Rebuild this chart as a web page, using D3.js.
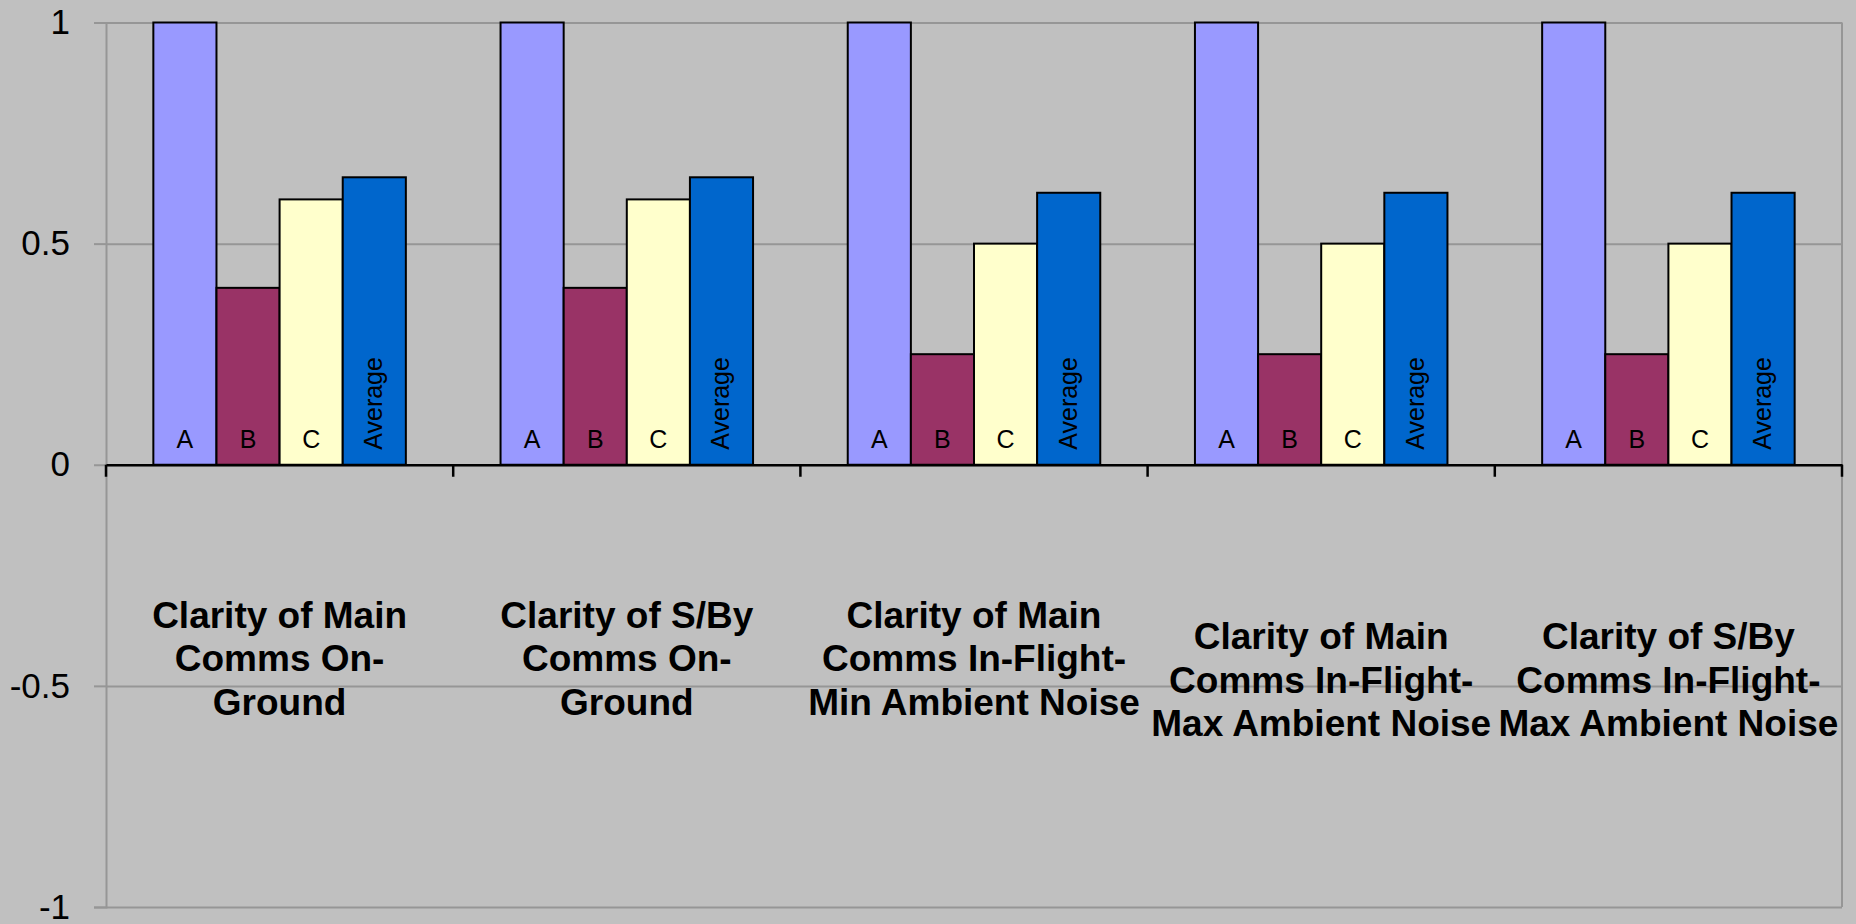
<!DOCTYPE html>
<html>
<head>
<meta charset="utf-8">
<script src="https://cdn.jsdelivr.net/npm/d3@7"></script>
<style>
  html, body { margin: 0; padding: 0; background: #c0c0c0; }
  svg { display: block; font-family: "Liberation Sans", Arial, sans-serif; }
</style>
</head>
<body>
<svg id="chart" width="1856" height="924"></svg>
<script>
// Category labels, one array of lines per category
const categories = [
  "Main On-Ground",
  "S/By On-Ground",
  "Main In-Flight Min",
  "Main In-Flight Max",
  "S/By In-Flight Max"
];
const categoryLines = [
  ["Clarity of Main", "Comms On-", "Ground"],
  ["Clarity of S/By", "Comms On-", "Ground"],
  ["Clarity of Main", "Comms In-Flight-", "Min Ambient Noise"],
  ["Clarity of Main", "Comms In-Flight-", "Max Ambient Noise"],
  ["Clarity of S/By", "Comms In-Flight-", "Max Ambient Noise"]
];

// Series and their values per category
const series = ["A", "B", "C", "Average"];
const valuesA = [1, 1, 1, 1, 1];
const valuesB = [0.4, 0.4, 0.25, 0.25, 0.25];
const valuesC = [0.6, 0.6, 0.5, 0.5, 0.5];
const valuesAverage = [0.65, 0.65, 0.615, 0.615, 0.615];

const yTicks = [-1, -0.5, 0, 0.5, 1];

const seriesColors = { "A": "#9999ff", "B": "#993366", "C": "#ffffcc", "Average": "#0066cc" };

const table = categories.map((c, i) => ({
  category: c,
  lines: categoryLines[i],
  values: [
    { key: "A", value: valuesA[i] },
    { key: "B", value: valuesB[i] },
    { key: "C", value: valuesC[i] },
    { key: "Average", value: valuesAverage[i] }
  ]
}));

// Plot geometry
const plot = { left: 106, right: 1842, top: 22.5, bottom: 907 };

const svg = d3.select("#chart");

const x0 = d3.scaleBand().domain(categories).range([plot.left, plot.right]).padding(0);
const bw = x0.bandwidth();
const gap = bw * 1.5 / 5.5; // gap width of 150% between groups
const x1 = d3.scaleBand().domain(series).range([gap / 2, bw - gap / 2]).padding(0);

const y = d3.scaleLinear().domain([-1, 1]).range([plot.bottom, plot.top]);

// Gridlines
svg.append("g")
  .attr("transform", `translate(${plot.left},0)`)
  .call(d3.axisLeft(y).tickValues(yTicks).tickSize(-(plot.right - plot.left)).tickFormat(""))
  .call(g => g.select(".domain").remove())
  .call(g => g.selectAll("line").attr("stroke", "#969696").attr("stroke-width", 2));

// Right border of the plot area
svg.append("line")
  .attr("x1", plot.right).attr("x2", plot.right)
  .attr("y1", y(1)).attr("y2", y(-1))
  .attr("stroke", "#969696").attr("stroke-width", 2);

// Y axis with labels
svg.append("g")
  .attr("transform", `translate(${plot.left},0)`)
  .call(d3.axisLeft(y).tickValues(yTicks).tickSize(12).tickPadding(24).tickFormat(d => String(d)))
  .call(g => g.select(".domain").attr("stroke", "#969696").attr("stroke-width", 2))
  .call(g => g.selectAll("line").attr("stroke", "#969696").attr("stroke-width", 2))
  .call(g => g.selectAll("text")
    .attr("font-size", 35)
    .attr("fill", "#000")
    .attr("font-family", "'Liberation Sans', Arial, sans-serif"));

// Bars
const groups = svg.append("g").selectAll("g")
  .data(table)
  .join("g")
  .attr("transform", d => `translate(${x0(d.category)},0)`);

groups.selectAll("rect")
  .data(d => d.values)
  .join("rect")
  .attr("x", d => x1(d.key))
  .attr("width", x1.bandwidth())
  .attr("y", d => y(Math.max(0, d.value)))
  .attr("height", d => Math.abs(y(d.value) - y(0)))
  .attr("fill", d => seriesColors[d.key])
  .attr("stroke", "#000")
  .attr("stroke-width", 2);

// Series names inside bar bases
groups.selectAll("text.series")
  .data(d => d.values)
  .join("text")
  .attr("class", "series")
  .attr("font-size", 25)
  .attr("fill", "#000")
  .each(function (d) {
    const t = d3.select(this);
    const cx = x1(d.key) + x1.bandwidth() / 2;
    if (d.key === "Average") {
      t.attr("transform", `translate(${cx + 8},${y(0) - 15}) rotate(-90)`)
        .attr("text-anchor", "start")
        .text(d.key);
    } else {
      t.attr("x", cx).attr("y", y(0) - 17)
        .attr("text-anchor", "middle")
        .text(d.key);
    }
  });

// X axis line at zero
svg.append("g")
  .attr("transform", `translate(0,${y(0)})`)
  .call(d3.axisBottom(x0).tickSize(0).tickFormat(""))
  .call(g => g.select(".domain").attr("stroke", "#000").attr("stroke-width", 2.5));

// Tick marks on category boundaries
const boundaries = categories.map(c => x0(c)).concat([x0(categories[categories.length - 1]) + bw]);
svg.append("g").selectAll("line")
  .data(boundaries)
  .join("line")
  .attr("x1", d => d).attr("x2", d => d)
  .attr("y1", y(0)).attr("y2", y(0) + 12)
  .attr("stroke", "#000").attr("stroke-width", 2.5);

// Category labels (the last two sit a little lower)
const labelTop = [627.5, 627.5, 627.5, 649, 649];
const labelStep = 43.5;

svg.append("g").selectAll("g")
  .data(table)
  .join("g")
  .attr("transform", (d, i) => `translate(${x0(d.category) + bw / 2},${labelTop[i]})`)
  .each(function (d) {
    d3.select(this).selectAll("text")
      .data(d.lines)
      .join("text")
      .attr("x", 0)
      .attr("y", (s, j) => j * labelStep)
      .attr("text-anchor", "middle")
      .attr("font-weight", "bold")
      .attr("font-size", 37)
      .attr("fill", "#000")
      .text(s => s);
  });
</script>
</body>
</html>
